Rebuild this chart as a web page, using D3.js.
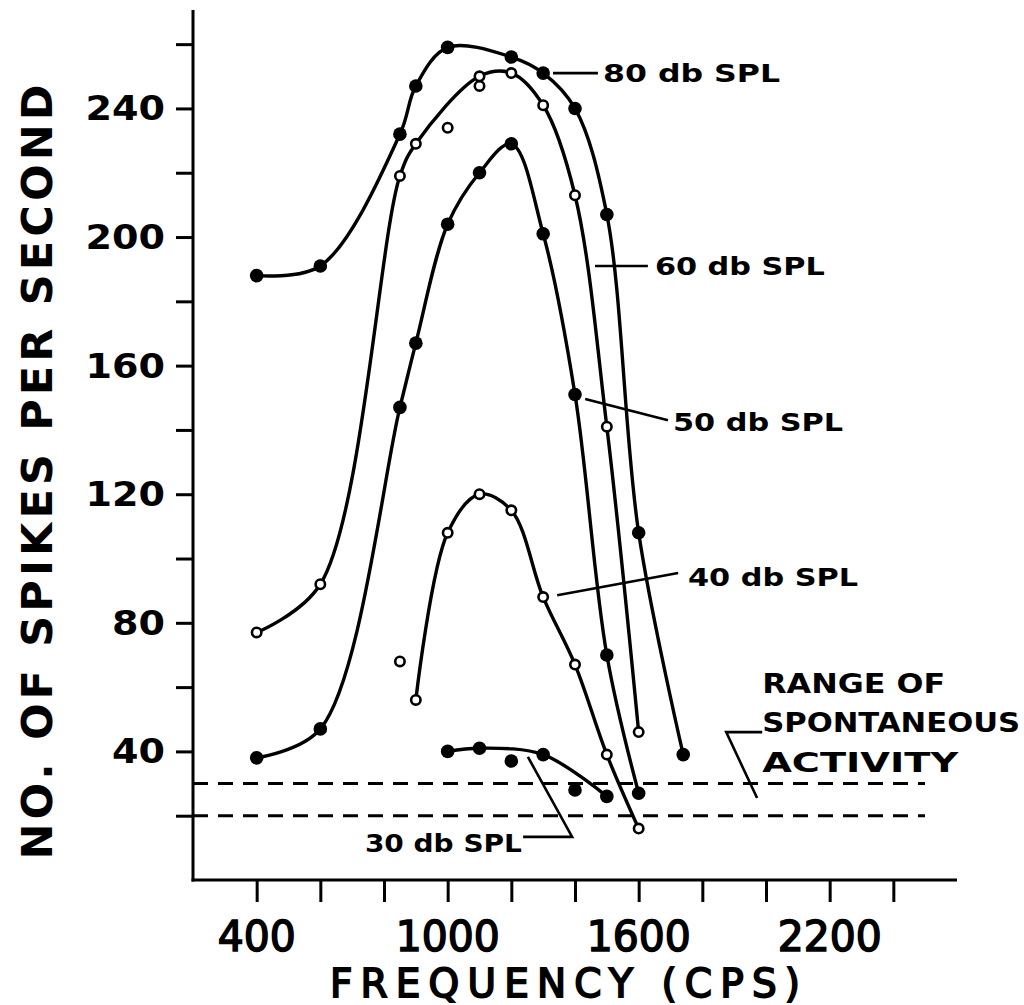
<!DOCTYPE html>
<html><head><meta charset="utf-8">
<script src="https://cdn.jsdelivr.net/npm/d3@7"></script>
<style>
html,body{margin:0;padding:0;background:#fff;}
svg{display:block;}
text{font-family:"DejaVu Sans",sans-serif;font-weight:bold;fill:#000;}
</style></head>
<body>
<svg id="chart" width="1024" height="1005"></svg>
<script>
// ---- data ----
const xTicks = [400,600,800,1000,1200,1400,1600,1800,2000,2200,2400];
const xTickLabels = {400:"400",1000:"1000",1600:"1600",2200:"2200"};
const yTicks = [20,40,60,80,100,120,140,160,180,200,220,240,260];
const yTickLabels = {40:"40",80:"80",120:"120",160:"160",200:"200",240:"240"};

const freq80 = [400,600,850,900,1000,1200,1300,1400,1500,1600,1740];
const rate80 = [188,191,232,247,259,256,251,240,207,108,39];
const fit80  = [1,1,1,1,1,1,1,1,1,1,1];

const freq60 = [400,600,850,900,1000,1100,1100,1200,1300,1400,1500,1600];
const rate60 = [77,92,219,229,234,247,250,251,241,213,141,46];
const fit60  = [1,1,1,1,0,0,1,1,1,1,1,1];

const freq50 = [400,600,850,900,1000,1100,1200,1300,1400,1500,1600];
const rate50 = [38,47,147,167,204,220,229,201,151,70,27];
const fit50  = [1,1,1,1,1,1,1,1,1,1,1];

const freq40 = [850,900,1000,1100,1200,1300,1400,1500,1600];
const rate40 = [68,56,108,120,115,88,67,39,16];
const fit40  = [0,1,1,1,1,1,1,1,1];

const freq30 = [1000,1100,1200,1300,1400,1500];
const rate30 = [40,41,37,39,28,26];
const fit30  = [1,1,0,1,0,1];

const spontLow = 20, spontHigh = 30;

const seriesNames = ["80 db SPL","60 db SPL","50 db SPL","40 db SPL","30 db SPL"];
const seriesFilled = [true,false,true,false,true];

// ---- layout ----
const svg = d3.select("#chart");
const x = d3.scaleLinear().domain([200,2600]).range([193,957]);
const y = d3.scaleLinear().domain([0,270]).range([880,12]);

const series = [
  [freq80,rate80,fit80],[freq60,rate60,fit60],[freq50,rate50,fit50],
  [freq40,rate40,fit40],[freq30,rate30,fit30]
].map((s,i)=>({name:seriesNames[i],filled:seriesFilled[i],
  pts:s[0].map((f,j)=>({f:f,r:s[1][j],fit:s[2][j]}))}));

// axes
const gY = svg.append("g").attr("transform","translate(193,0)")
  .call(d3.axisLeft(y).tickValues(yTicks).tickSize(17).tickFormat(""));
const gX = svg.append("g").attr("transform","translate(0,880)")
  .call(d3.axisBottom(x).tickValues(xTicks).tickSize(22).tickFormat(""));
[gY,gX].forEach(g=>{
  g.select(".domain").remove();
  g.selectAll(".tick line").attr("stroke","#000").attr("stroke-width",3);
});
svg.append("line").attr("x1",193).attr("x2",193).attr("y1",10).attr("y2",881.5)
  .attr("stroke","#000").attr("stroke-width",3);
svg.append("line").attr("x1",191.5).attr("x2",957).attr("y1",880).attr("y2",880)
  .attr("stroke","#000").attr("stroke-width",3);
// small inner tick at 30
svg.append("line").attr("x1",193).attr("x2",203).attr("y1",y(30)).attr("y2",y(30))
  .attr("stroke","#000").attr("stroke-width",2.5);

// tick labels
yTicks.filter(v=>yTickLabels[v]).forEach(v=>{
  const s = yTickLabels[v];
  svg.append("text").attr("x",165).attr("y",y(v)+12).attr("text-anchor","end")
    .attr("font-size",33).attr("textLength",s.length*26.5).attr("lengthAdjust","spacingAndGlyphs")
    .text(s);
});
xTicks.filter(v=>xTickLabels[v]).forEach(v=>{
  const s = xTickLabels[v];
  svg.append("text").attr("x",x(v)).attr("y",951).attr("text-anchor","middle")
    .attr("font-size",42).style("font-weight","normal")
    .attr("textLength",s.length*26).attr("lengthAdjust","spacingAndGlyphs")
    .attr("stroke","#000").attr("stroke-width",1.6)
    .text(s);
});

// axis titles
svg.append("text").attr("transform","translate(52,472) rotate(-90)")
  .attr("text-anchor","middle").attr("font-size",43)
  .attr("textLength",775).attr("lengthAdjust","spacing")
  .text("NO. OF SPIKES PER SECOND");
svg.append("text").attr("x",565).attr("y",997).attr("text-anchor","middle")
  .attr("font-size",39).style("font-weight","normal")
  .attr("stroke","#000").attr("stroke-width",1.8)
  .attr("textLength",470).attr("lengthAdjust","spacing")
  .text("FREQUENCY (CPS)");

// spontaneous range dashed lines
[spontHigh,spontLow].forEach(v=>{
  svg.append("line").attr("x1",193).attr("x2",925).attr("y1",y(v)).attr("y2",y(v))
    .attr("stroke","#000").attr("stroke-width",3).attr("stroke-dasharray","15,10");
});

// curves
const line = d3.line().x(d=>x(d.f)).y(d=>y(d.r)).curve(d3.curveCatmullRom.alpha(0.5));
series.forEach(s=>{
  svg.append("path").datum(s.pts.filter(p=>p.fit))
    .attr("d",line).attr("fill","none").attr("stroke","#000").attr("stroke-width",3.4);
});
// markers
series.forEach(s=>{
  svg.append("g").selectAll("circle").data(s.pts).join("circle")
    .attr("cx",d=>x(d.f)).attr("cy",d=>y(d.r))
    .attr("r",s.filled?6.8:4.7)
    .attr("fill",s.filled?"#000":"#fff")
    .attr("stroke","#000").attr("stroke-width",s.filled?0:2.6);
});

// annotations (label text position, leader polyline; all in data coordinates)
const ann = [
  {t:seriesNames[0], tx:1488, ty:251, w:177, lead:[[1331,251],[1472,251]]},
  {t:seriesNames[1], tx:1651, ty:191, w:170, lead:[[1463,191],[1629,191]]},
  {t:seriesNames[2], tx:1708, ty:142.5, w:170, lead:[[1432,149.6],[1692,143]]},
  {t:seriesNames[3], tx:1755, ty:94.2, w:170, lead:[[1344,88.6],[1724,95.5]]},
  {t:seriesNames[4], tx:740,  ty:11.5, w:157, lead:[[1237,13.4],[1391,13.4],[1252,38.3]]}
];
const lx = d3.line().x(d=>x(d[0])).y(d=>y(d[1]));
ann.forEach(a=>{
  svg.append("path").datum(a.lead).attr("d",lx).attr("fill","none")
    .attr("stroke","#000").attr("stroke-width",2.6);
  svg.append("text").attr("x",x(a.tx)).attr("y",y(a.ty)+9).attr("font-size",24)
    .attr("textLength",a.w).attr("lengthAdjust","spacingAndGlyphs").text(a.t);
});
// range of spontaneous activity
const rangeLines = ["RANGE OF","SPONTANEOUS","ACTIVITY"];
const rangeW = [183,258,196];
rangeLines.forEach((t,i)=>{
  svg.append("text").attr("x",x(1988)).attr("y",y(58.5)+i*39.5+1).attr("font-size",26)
    .attr("textLength",rangeW[i]).attr("lengthAdjust","spacingAndGlyphs").text(t);
});
svg.append("path").datum([[1988,46],[1875,46],[1972,25.5]]).attr("d",lx)
  .attr("fill","none").attr("stroke","#000").attr("stroke-width",2.6);
</script>
</body></html>
